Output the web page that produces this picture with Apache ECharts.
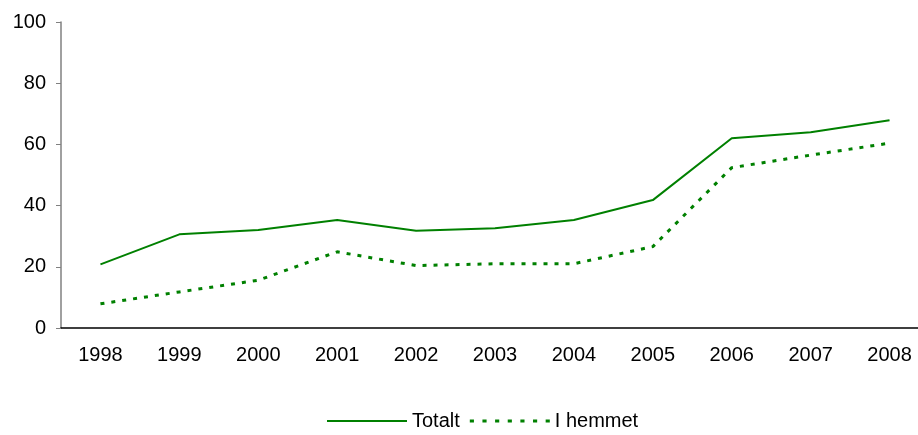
<!DOCTYPE html>
<html><head><meta charset="utf-8">
<script src="https://cdn.jsdelivr.net/npm/echarts@6/dist/echarts.min.js"></script>
<style>html,body{margin:0;padding:0;background:#fff}#c{width:918px;height:435px}</style>
</head><body><div id="c"></div>
<script>
const years = ['1998','1999','2000','2001','2002','2003','2004','2005','2006','2007','2008'];
const totalt = [20.8, 30.6, 32.0, 35.3, 31.8, 32.6, 35.3, 41.8, 62.0, 64.0, 67.9];
const iHemmet = [7.9, 11.8, 15.6, 24.9, 20.4, 21.0, 21.0, 26.6, 52.4, 56.5, 60.4];
const yTicks = [0, 20, 40, 60, 80, 100];

// legend icons (style only)
let dashPath = 'path://';
for (let i = 0; i < 7; i++) { const x = i * 12.2; dashPath += 'M' + x + ',0h4v3h-4z'; }

const chart = echarts.init(document.getElementById('c'), null, {renderer: 'canvas'});
const font = 'Liberation Sans, Arial, sans-serif';
chart.setOption({
  animation: false,
  grid: {left: 61, right: -11, top: 22, bottom: 107, containLabel: false, outerBoundsMode: 'none'},
  legend: {
    bottom: -1, left: 322, itemWidth: 80, itemHeight: 10, itemGap: 10,
    textStyle: {fontFamily: font, fontSize: 20, color: '#000'},
    data: [
      {name: 'Totalt', icon: 'path://M0,0 L80,0 L80,2 L0,2 Z'},
      {name: 'I hemmet', icon: dashPath}
    ]
  },
  xAxis: {
    type: 'category', data: years, boundaryGap: true,
    axisLine: {lineStyle: {color: '#000', width: 1.5}},
    axisTick: {lineStyle: {color: '#808080'}, length: 5},
    axisLabel: {fontFamily: font, fontSize: 20, color: '#000', margin: 17}
  },
  yAxis: {
    type: 'value', min: yTicks[0], max: yTicks[yTicks.length-1], interval: 20,
    axisLine: {show: true, lineStyle: {color: '#808080', width: 1.5}},
    axisTick: {show: true, lineStyle: {color: '#808080'}, length: 5},
    splitLine: {show: false},
    axisLabel: {fontFamily: font, fontSize: 20, color: '#000', margin: 15}
  },
  series: [
    {name: 'Totalt', type: 'line', data: totalt, symbol: 'none',
     itemStyle: {color: '#008000'},
     lineStyle: {color: '#008000', width: 2}},
    {name: 'I hemmet', type: 'line', data: iHemmet, symbol: 'none',
     itemStyle: {color: '#008000'},
     lineStyle: {color: '#008000', width: 3, type: [4, 7]}}
  ]
});
</script></body></html>
